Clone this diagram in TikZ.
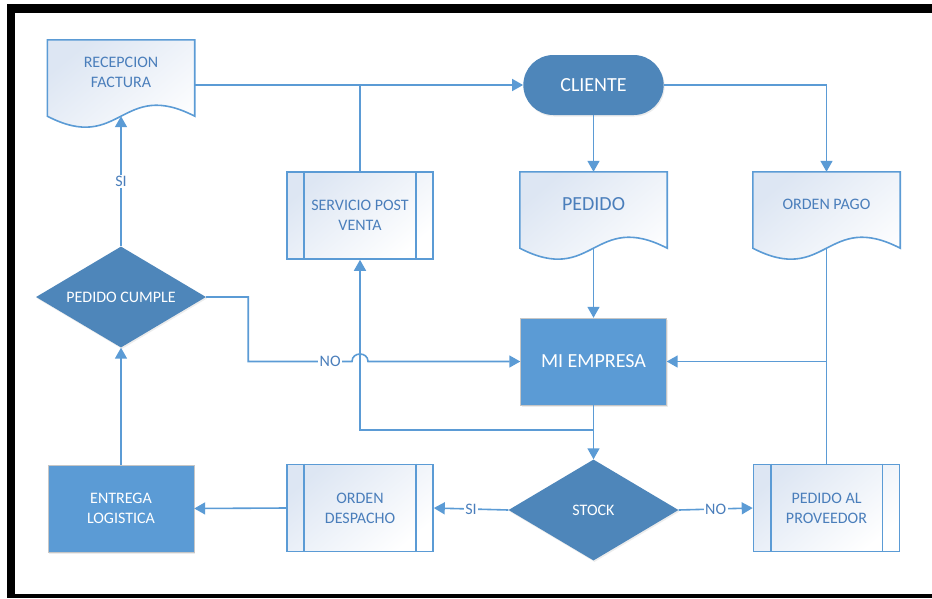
\documentclass[tikz,border=0pt]{standalone}
\usepackage{fontspec}
\setmainfont{Carlito}
\usetikzlibrary{arrows.meta, positioning, shapes.geometric, shapes.misc, calc, backgrounds, shadows}

\definecolor{lineblue}{HTML}{5B9BD5}
\definecolor{darkblue}{HTML}{4E86BA}
\definecolor{midblue}{HTML}{5B9BD5}
\definecolor{textblue}{HTML}{4A7EBB}
\definecolor{fadeblue}{HTML}{DDE6F3}

\newcommand{\normtxt}{\fontsize{16}{20}\selectfont}
\newcommand{\bigtxt}{\fontsize{20}{24}\selectfont}

\tikzset{
  conn/.style={draw=lineblue, line width=1.6pt},
  arr/.style={conn, -{Triangle[length=11pt,width=12pt]}},
  lab/.style={fill=white, text=textblue, inner sep=1.5pt, font=\normtxt},
  subproc/.style={draw=lineblue, line width=1.6pt, top color=fadeblue, bottom color=white, shading angle=40,
    text=textblue, align=center, font=\normtxt, minimum width=146pt, minimum height=87pt},
  doc/.style={text=textblue, align=center, font=\normtxt, minimum width=147pt, minimum height=64pt, inner sep=0pt},
  darkbox/.style={fill=midblue, draw=gray!45, text=white, align=center, font=\normtxt,
    minimum width=146pt, minimum height=87pt, drop shadow={opacity=0.15, shadow xshift=1pt, shadow yshift=-1.5pt}},
  decision/.style={diamond, aspect=1.68, fill=darkblue, text=white, font=\normtxt, minimum width=170pt, minimum height=101pt,
    inner sep=0pt, drop shadow={opacity=0.15, shadow xshift=1pt, shadow yshift=-1.5pt}},
  terminal/.style={rounded rectangle, fill=darkblue, text=white, font=\bigtxt, minimum width=147pt, minimum height=60pt,
    drop shadow={opacity=0.15, shadow xshift=1pt, shadow yshift=-1.5pt}},
}

\begin{document}
\begin{tikzpicture}[x=1pt, y=-1pt]
\useasboundingbox (0,0) rectangle (932,598);
% frame
\fill[black] (7,4) rectangle (932,13);
\fill[black] (7,4) rectangle (15,598);
\fill[black] (7,594) rectangle (932,598);

% top row
\node[doc] (recep) at (121,72) {RECEPCION\\FACTURA};
\node[terminal] (cliente) at (593.5,85) {CLIENTE};
\node[doc, font=\bigtxt] (pedido) at (593.5,204) {PEDIDO};
\node[doc] (ordenpago) at (826.5,204) {ORDEN PAGO};
\node[subproc] (servicio) at (360,215.5) {SERVICIO POST\\VENTA};

% middle
\node[decision] (cumple) at (121,297) {PEDIDO CUMPLE};
\node[darkbox, font=\bigtxt] (miempresa) at (593.5,361.5) {MI EMPRESA};

% bottom row
\node[darkbox] (entrega) at (121,508.5) {ENTREGA\\LOGISTICA};
\node[subproc] (ordendesp) at (360,508) {ORDEN\\DESPACHO};
\node[decision] (stock) at (593.5,510) {STOCK};
\node[subproc] (proveedor) at (826.5,508) {PEDIDO AL\\PROVEEDOR};

% document outlines
\begin{scope}[on background layer]
\foreach \n in {recep,pedido,ordenpago} {
  \draw[conn, top color=fadeblue, bottom color=white, shading angle=40]
    (\n.north west) -- (\n.north east) -- ([yshift=-12pt]\n.south east)
    .. controls +(-73.5,-38) and +(73.5,38) .. ([yshift=-12pt]\n.south west) -- cycle;
  \coordinate (\n-foot) at ([yshift=-12pt]\n.south);
}
\end{scope}

% subprocess side bars
\foreach \n in {servicio,ordendesp,proveedor} {
  \draw[conn] ([xshift=18pt]\n.north west) -- ([xshift=18pt]\n.south west)
              ([xshift=-18pt]\n.north east) -- ([xshift=-18pt]\n.south east);
}

% connectors
\draw[arr] (recep.east |- cliente.west) -- (cliente.west);
\draw[conn] (servicio.north) -- (servicio.north |- cliente.west);
\draw[arr] (cliente.south) -- (pedido.north);
\draw[arr] (cliente.east) -| (ordenpago.north);
\draw[arr] (pedido-foot) -- (miempresa.north);
\draw[conn] (ordenpago-foot) -- (proveedor.north);
\draw[arr] (ordenpago-foot |- miempresa.east) -- (miempresa.east);
\draw[arr] (miempresa.south) -- (stock.north);
\coordinate (split) at ($(miempresa.south)+(0,25)$);
\draw[arr] (split) -| (servicio.south);
\draw[arr] (stock.west) -- node[lab] {SI} (ordendesp.east);
\draw[arr] (stock.east) -- node[lab] {NO} (proveedor.west);
\draw[arr] (ordendesp.west) -- (entrega.east);
\draw[arr] (entrega.north) -- (cumple.south);
\draw[arr] (cumple.north) -- node[lab] {SI} (recep-foot);
\coordinate (noturn) at ($(cumple.east)+(42,0)$);
\coordinate (hop) at (servicio.south |- miempresa.west);
\draw[arr] (cumple.east) -- (noturn) -- (noturn |- hop)
  -- node[lab, pos=0.79] {NO} ($(hop)+(-8,0)$) .. controls +(0,-10) and +(0,-10) .. +(16,0)
  -- (miempresa.west);
\end{tikzpicture}
\end{document}
